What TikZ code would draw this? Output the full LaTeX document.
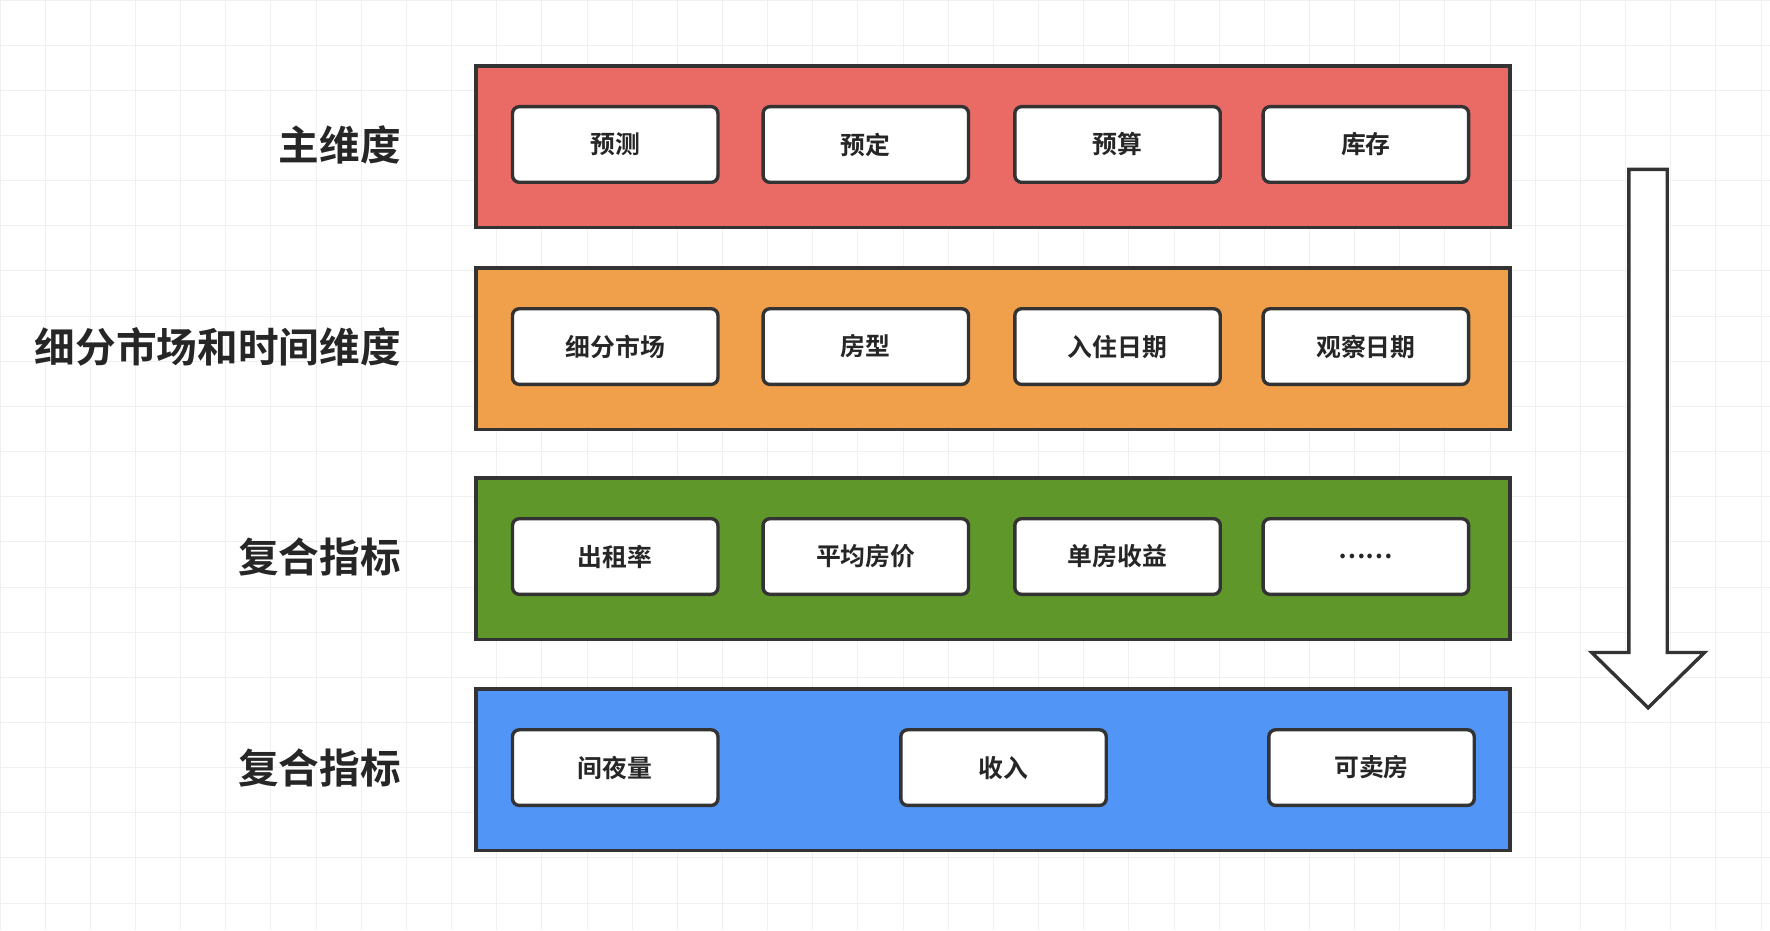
\documentclass[tikz,border=0pt]{standalone}
\usepackage{fontspec}
\setmainfont{Noto Sans CJK SC}[BoldFont={Noto Sans CJK SC Bold}]
\begin{document}
\begin{tikzpicture}[x=0.5pt,y=-0.5pt,
 band/.style={draw=black!80,line width=1.5pt,minimum width=458pt,minimum height=71.5pt,anchor=north west,inner sep=0},
 cell/.style={draw=black!80,fill=white,line width=1.5pt,rounded corners=3pt,minimum width=91pt,minimum height=33.5pt,font=\bfseries\fontsize{11}{13}\selectfont,text=black!85},
 lab/.style={anchor=east,font=\bfseries\fontsize{18}{20}\selectfont,text=black!85}]
\useasboundingbox (0,0) rectangle (1568,824);
\fill[white] (0,0) rectangle (1568,824);
\foreach \x in {0,40,...,1568} \draw[black!6,line width=0.4pt] (\x,0) -- (\x,824);
\foreach \y in {0,40,...,824} \draw[black!6,line width=0.4pt] (0,\y) -- (1568,\y);
\definecolor{cr}{HTML}{EA6B66}\definecolor{co}{HTML}{F0A04B}
\definecolor{cg}{HTML}{60972A}\definecolor{cb}{HTML}{5196F6}
\node[band,fill=cr] (b1) at (420,57) {};
\node[band,fill=co] (b2) at (420,236) {};
\node[band,fill=cg] (b3) at (420,422) {};
\node[band,fill=cb] (b4) at (420,609) {};
\node[lab] (l1) at (362,128) {主维度};
\node[lab] (l2) at (362,307) {细分市场和时间维度};
\node[lab] (l3) at (362,493) {复合指标};
\node[lab] (l4) at (362,680) {复合指标};
\node[cell] (a1) at (545,128) {预测};
\node[cell] (a2) at (767,128) {预定};
\node[cell] (a3) at (990,128) {预算};
\node[cell] (a4) at (1210,128) {库存};
\node[cell] (c1) at (545,307) {细分市场};
\node[cell] (c2) at (767,307) {房型};
\node[cell] (c3) at (990,307) {入住日期};
\node[cell] (c4) at (1210,307) {观察日期};
\node[cell] (d1) at (545,493) {出租率};
\node[cell] (d2) at (767,493) {平均房价};
\node[cell] (d3) at (990,493) {单房收益};
\node[cell] (d4) at (1210,493) {……};
\node[cell] (e1) at (545,680) {间夜量};
\node[cell] (e2) at (889,680) {收入};
\node[cell] (e3) at (1215,680) {可卖房};
\draw[black!80,fill=white,line width=1.5pt] (1443,150) -- (1477,150) -- (1477,578) -- (1510,578) -- (1460,627) -- (1410,578) -- (1443,578) -- cycle;
\end{tikzpicture}
\end{document}
